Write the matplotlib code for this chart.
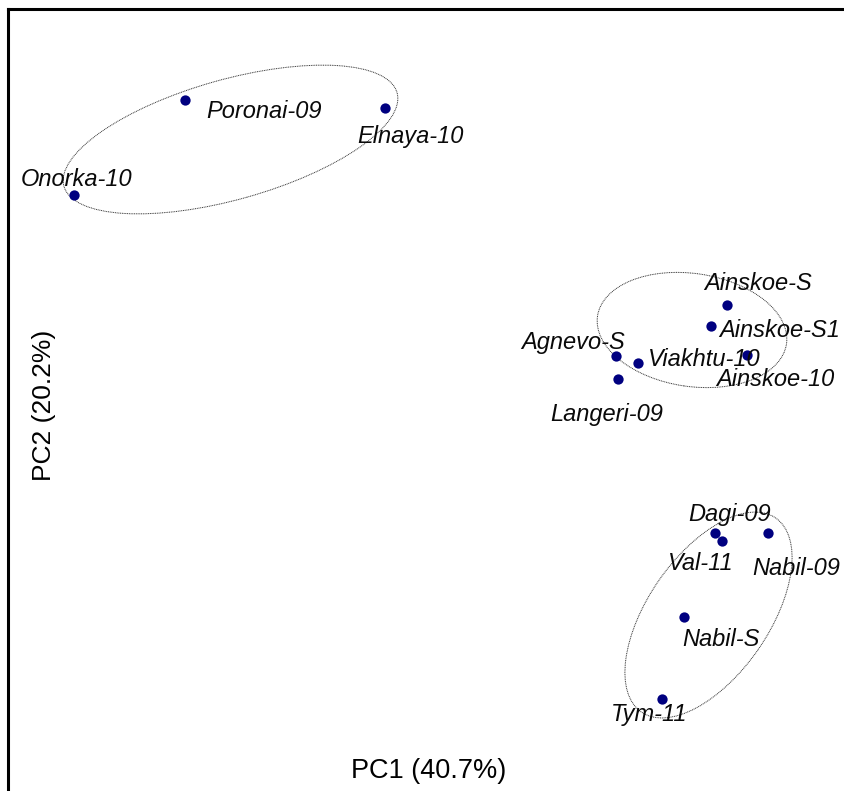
import matplotlib
matplotlib.use("Agg")
import matplotlib.pyplot as plt
from matplotlib.patches import Ellipse

plt.rcParams['font.family'] = ['Liberation Sans', 'DejaVu Sans']

# ---- data (PC scores) ----
names = ["Poronai-09", "Elnaya-10", "Onorka-10", "Ainskoe-S", "Ainskoe-S1",
         "Agnevo-S", "Viakhtu-10", "Ainskoe-10", "Langeri-09", "Dagi-09",
         "Val-11", "Nabil-09", "Nabil-S", "Tym-11"]
pc1 = [-2.65, -0.65, -3.76, 2.77, 2.61, 1.66, 1.88, 2.97, 1.68, 2.65, 2.72, 3.18, 2.34, 2.12]
pc2 = [3.30, 3.22, 2.35, 1.25, 1.04, 0.74, 0.67, 0.75, 0.51, -1.03, -1.11, -1.03, -1.87, -2.69]

# group ellipses: centre x, centre y, width, height, angle
ell_cx = [-2.195, 2.42, 2.585]
ell_cy = [2.905, 1.00, -1.85]
ell_w = [3.46, 1.91, 2.36]
ell_h = [1.20, 1.13, 1.21]
ell_ang = [15.7, -8.4, 55.3]

# label offsets in pixels (dx, dy)
lab_off = {
    "Poronai-09": (21, -18.5), "Elnaya-10": (-28, -35), "Onorka-10": (-53, 9.5),
    "Ainskoe-S": (-23, 14.5), "Ainskoe-S1": (8, -11), "Agnevo-S": (-95, 7.5),
    "Viakhtu-10": (10, -2.5), "Ainskoe-10": (-31, -31), "Langeri-09": (-68, -41.5),
    "Dagi-09": (-27, 12.5), "Val-11": (-54, -29.5), "Nabil-09": (-16, -42),
    "Nabil-S": (-2, -28.5), "Tym-11": (-51, -21.5),
}

W, H = 844, 791
fig = plt.figure(figsize=(W / 100, H / 100), dpi=100)
ax = fig.add_axes([8 / W, 0, 836 / W, 782 / H])
ax.set_xlim(-4.42, 3.94)
ax.set_ylim(-3.61, 4.21)
ax.set_xticks([])
ax.set_yticks([])
for s in ["right", "bottom"]:
    ax.spines[s].set_visible(False)
for s in ["left", "top"]:
    ax.spines[s].set_linewidth(2.2)
    ax.spines[s].set_color("black")

for cx, cy, w, h, a in zip(ell_cx, ell_cy, ell_w, ell_h, ell_ang):
    ax.add_patch(Ellipse((cx, cy), w, h, angle=a, fill=False,
                         edgecolor="#333333", linewidth=0.7,
                         linestyle=(0, (1, 0.8))))

ax.scatter(pc1, pc2, s=55, color="#000080", zorder=3, linewidths=0)

for n, x, y in zip(names, pc1, pc2):
    dx, dy = lab_off[n]
    ax.annotate(n, (x, y), xytext=(dx, dy), textcoords="offset pixels",
                ha="left", va="baseline", fontsize=17, fontstyle="italic",
                color="#0a0a0a", zorder=4)

fig.text(429 / W, 1 - 771 / H, "PC1 (40.7%)", ha="center", va="center", fontsize=19.5)
fig.text(44 / W, 1 - 405 / H, "PC2 (20.2%)", ha="center", va="center",
         fontsize=19, rotation=90)

fig.savefig("out.png", dpi=100)
